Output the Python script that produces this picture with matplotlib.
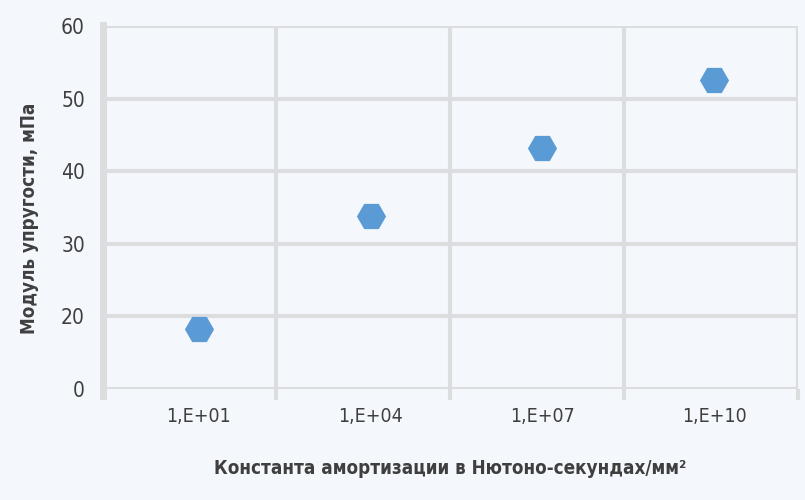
import matplotlib.pyplot as plt
from matplotlib.ticker import FixedLocator

categories = ['1,E+01', '1,E+04', '1,E+07', '1,E+10']
modulus = [18.2, 33.8, 43.2, 52.6]
y_ticks = [10, 20, 30, 40, 50, 60]
y_tick_labels = ['0', '20', '30', '40', '50', '60']

bg = '#f4f8fc'
grid_col = '#dcdddf'
text_col = '#3f3f3f'

plt.rcParams['font.family'] = ['DejaVu Sans']

fig = plt.figure(figsize=(8.05, 5.0), dpi=100, facecolor=bg)
ax = fig.add_axes([103 / 805, 111 / 500, 695 / 805, 363 / 500], facecolor=bg)

x = list(range(len(categories)))
ax.plot(x, modulus, linestyle='none', marker='H', markersize=21,
        color='#5b9bd5', markeredgewidth=0, zorder=3)

ax.set_xlim(-0.559, 3.489)
ax.set_ylim(10, 60)

ax.set_xticks(x)
ax.set_xticklabels(categories, fontsize=14, color=text_col, stretch='condensed')
ax.xaxis.set_minor_locator(FixedLocator([0.448, 1.462, 2.475, 3.489]))
ax.tick_params(axis='x', which='major', length=0, pad=13)
ax.tick_params(axis='x', which='minor', length=8, width=3, color=grid_col)

ax.set_yticks(y_ticks)
ax.set_yticklabels(y_tick_labels, fontsize=15, color=text_col, stretch='condensed')
ax.tick_params(axis='y', length=0, pad=13)

ax.grid(True, axis='y', which='major', color=grid_col, linewidth=3)
ax.grid(True, axis='x', which='minor', color=grid_col, linewidth=3)

for side in ['top', 'right', 'bottom']:
    ax.spines[side].set_visible(False)
ax.spines['left'].set_color(grid_col)
ax.spines['left'].set_linewidth(5)
ax.spines['left'].set_bounds(9.0, 60.2)
ax.spines['left'].set_zorder(1)

ax.set_xlabel('Константа амортизации в Нютоно-секундах/мм²', fontsize=13.5,
              fontweight='bold', color=text_col, labelpad=24, stretch='condensed')
ax.set_ylabel('Модуль упругости, мПа', fontsize=13.5, fontweight='bold',
              color=text_col, labelpad=16, stretch='condensed')
ax.yaxis.label.set_y(0.47)
ax.set_axisbelow(True)

fig.savefig('out.png', dpi=100, facecolor=bg)
